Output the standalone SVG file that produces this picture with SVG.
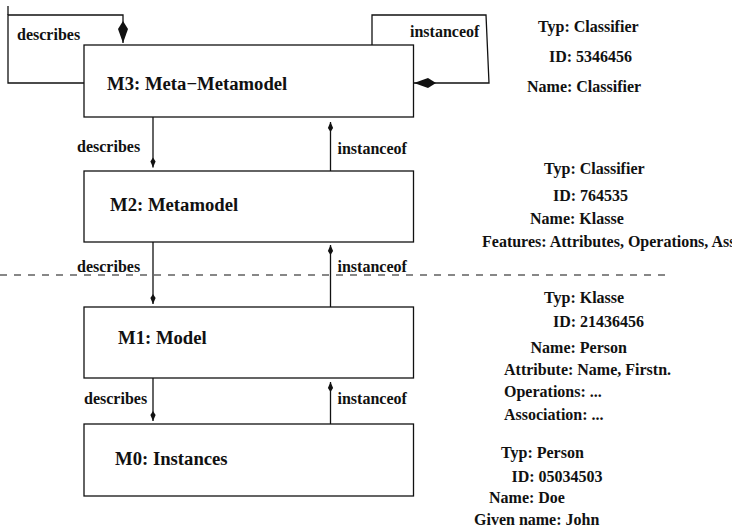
<svg xmlns="http://www.w3.org/2000/svg" width="732" height="527" viewBox="0 0 732 527">
<style>
.box{fill:#fff;stroke:#111;stroke-width:1.3}
.ln{fill:none;stroke:#111;stroke-width:1.3}
.dash{fill:none;stroke:#111;stroke-width:1.2;stroke-dasharray:7 7}
text{font-family:"Liberation Serif","Times New Roman",serif;font-weight:bold;fill:#111}
.big{font-size:18.7px}
.sm{font-size:16px}
</style>
<defs>
<marker id="kite" markerUnits="userSpaceOnUse" markerWidth="12" markerHeight="8" viewBox="0 -4 11 8" refX="10" refY="0" orient="auto">
<path d="M0,0 L4,-2.6 L10,0 L4,2.6 Z" fill="#111"/>
</marker>
<marker id="kiteL" markerUnits="userSpaceOnUse" markerWidth="24" markerHeight="12" viewBox="0 -6 23 12" refX="22" refY="0" orient="auto">
<path d="M0,0 L8,-5 L22,0 L8,5 Z" fill="#111"/>
</marker>
</defs>
<rect width="732" height="527" fill="#fff"/>
<g id="layer-separator">
<line class="dash" x1="0" y1="275" x2="665" y2="275"/>
</g>
<g id="connectors">
<path class="ln" d="M84,83 H8 V15 H123 V43" marker-end="url(#kiteL)"/>
<path class="ln" d="M8,15 V6"/>
<path class="ln" d="M372,45 V15 H486 L489,83 H414" marker-end="url(#kiteL)"/>
<path class="ln" d="M153,117 V167.5" marker-end="url(#kite)"/>
<path class="ln" d="M330.5,171 V122" marker-end="url(#kite)"/>
<path class="ln" d="M153,242 V304" marker-end="url(#kite)"/>
<path class="ln" d="M330.5,307 V245" marker-end="url(#kite)"/>
<path class="ln" d="M153,378 V421" marker-end="url(#kite)"/>
<path class="ln" d="M330.5,424 V382" marker-end="url(#kite)"/>
<text class="sm" x="17" y="40">describes</text>
<text class="sm" x="410" y="37">instanceof</text>
<text class="sm" x="77" y="152">describes</text>
<text class="sm" x="337.5" y="154">instanceof</text>
<text class="sm" x="77" y="272">describes</text>
<text class="sm" x="337.5" y="272">instanceof</text>
<text class="sm" x="84" y="404">describes</text>
<text class="sm" x="337.5" y="404">instanceof</text>
</g>
<g id="M3">
<rect class="box" x="84" y="45" width="329.5" height="72"/>
<text class="big" x="107" y="90">M3: Meta−Metamodel</text>
</g>
<g id="M2">
<rect class="box" x="84" y="171" width="329.5" height="71"/>
<text class="big" x="110" y="211">M2: Metamodel</text>
</g>
<g id="M1">
<rect class="box" x="84" y="307" width="329.5" height="71"/>
<text class="big" x="118" y="344">M1: Model</text>
</g>
<g id="M0">
<rect class="box" x="84" y="424" width="329.5" height="72"/>
<text class="big" x="115" y="465">M0: Instances</text>
</g>
<g id="M3-info">
<text class="sm" x="538" y="32">Typ: Classifier</text>
<text class="sm" x="549" y="61.5">ID: 5346456</text>
<text class="sm" x="527" y="91.5">Name: Classifier</text>
</g>
<g id="M2-info">
<text class="sm" x="544" y="173.5">Typ: Classifier</text>
<text class="sm" x="553" y="201">ID: 764535</text>
<text class="sm" x="530" y="224">Name: Klasse</text>
<text class="sm" x="482" y="246.5">Features: Attributes, Operations, Ass</text>
</g>
<g id="M1-info">
<text class="sm" x="544" y="303">Typ: Klasse</text>
<text class="sm" x="553" y="326.5">ID: 21436456</text>
<text class="sm" x="530.5" y="352.5">Name: Person</text>
<text class="sm" x="504" y="375">Attribute: Name, Firstn.</text>
<text class="sm" x="504" y="397">Operations: ...</text>
<text class="sm" x="504" y="420">Association: ...</text>
</g>
<g id="M0-info">
<text class="sm" x="501" y="457.5">Typ: Person</text>
<text class="sm" x="511.5" y="481.5">ID: 05034503</text>
<text class="sm" x="489" y="503">Name: Doe</text>
<text class="sm" x="474" y="525">Given name: John</text>
</g>
</svg>
